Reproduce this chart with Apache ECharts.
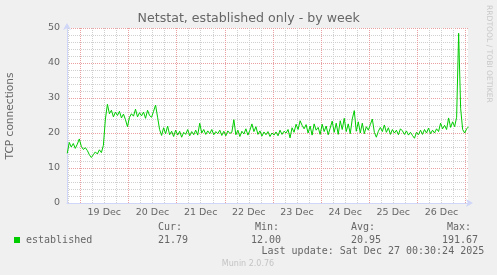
<!DOCTYPE html>
<html>
<head>
<meta charset="utf-8">
<script src="https://cdn.jsdelivr.net/npm/echarts@6/dist/echarts.min.js"></script>
<style>
html,body{margin:0;padding:0;background:#f0f0f0;}
#chart{width:497px;height:275px;}
</style>
</head>
<body>
<div id="chart"></div>
<script>
// ---- data ----
const chartTitle = 'Netstat, established only - by week';
const yAxisTitle = 'TCP connections';
const seriesName = 'established';
const seriesStart = Date.UTC(2025, 11, 18, 17, 30); // first sample
const stepMs = 3600 * 1000;                          // one sample per hour
const established = [
  14.2, 17.3, 16.0, 17.0, 15.6, 16.8, 18.3, 16.2, 15.3, 15.8,
  15.0, 13.8, 13.0, 13.8, 14.6, 14.0, 15.2, 14.4, 16.5, 24.0,
  28.2, 25.5, 26.5, 24.6, 26.0, 25.0, 26.2, 24.3, 25.4, 23.8,
  21.8, 24.5, 25.5, 24.8, 26.8, 24.6, 25.8, 24.9, 26.0, 24.2,
  26.5, 25.0, 24.5, 26.2, 28.0, 24.5, 21.0, 19.3, 21.5, 19.8,
  22.0, 19.5, 20.5, 19.0, 20.8, 19.4, 20.5, 18.8, 20.2, 19.6,
  21.0, 19.2, 20.4, 19.5, 20.8, 19.4, 22.8, 20.0, 21.0, 19.6,
  20.6, 19.8, 21.0, 19.5, 20.4, 19.8, 20.8, 19.3, 20.5, 19.2,
  20.6, 19.9, 20.2, 23.8, 19.5, 20.8, 19.0, 20.5, 19.7, 21.2,
  19.4, 20.8, 22.6, 20.4, 21.8, 19.6, 20.6, 19.1, 20.3, 19.5,
  20.4, 19.0, 20.0, 19.4, 20.3, 19.2, 20.8, 19.6, 20.5, 20.0,
  21.0, 18.6, 21.5, 20.2, 22.5, 21.0, 23.5, 22.2, 21.2, 22.4,
  20.0, 22.0, 19.4, 22.6, 20.8, 21.6, 19.6, 22.5, 20.4, 22.0,
  19.5, 21.4, 23.4, 20.2, 22.8, 19.6, 23.5, 21.0, 24.2, 20.4,
  22.6, 19.8, 24.0, 26.4, 20.5, 23.2, 20.0, 22.8, 19.8, 21.8,
  20.8, 22.4, 24.0, 20.2, 18.8, 20.5, 21.6, 20.4, 22.3, 20.2,
  21.5, 19.6, 21.0, 20.0, 20.8, 19.5, 21.2, 20.6, 19.6, 20.6,
  19.4, 20.2, 19.3, 18.5, 20.2, 19.5, 20.8, 19.6, 21.0, 20.0,
  21.4, 19.8, 20.8, 20.0, 21.2, 20.4, 22.8, 21.2, 22.2, 21.0,
  24.3, 21.6, 23.2, 21.8, 24.5, 48.5, 27.0, 21.0, 20.0, 21.2,
  21.8
];
const xRange = [Date.UTC(2025, 11, 18, 17, 22), Date.UTC(2025, 11, 27, 1, 10)];
const gridStart = Date.UTC(2025, 11, 18, 18, 0);   // first 6-hour grid line
const gridEnd = Date.UTC(2025, 11, 27, 0, 0);      // last grid line
const monthLabel = 'Dec';
const yRange = [0, 50];
const yMajor = 10;
const legendHeaders = ['Cur:', 'Min:', 'Avg:', 'Max:'];
const legendValues = ['21.79', '12.00', '20.95', '191.67'];
const lastUpdate = 'Last update: Sat Dec 27 00:30:24 2025';
const footer = 'Munin 2.0.76';
const sideText = 'RRDTOOL / TOBI OETIKER';

// ---- styles ----
const FONT = '#666666';
const AXIS = '#CFD6F8';
const MAJ = '#eaa0a0';
const MIN = '#d0d0d0';
const LINE = '#00cc00';
const sans = 'DejaVu Sans';
const mono = 'DejaVu Sans Mono';

const seriesData = established.map((v, i) => [seriesStart + i * stepMs, v]);

// vertical grid lines: every 6 hours, red at midnight
const vGrid = [];
for (let t = gridStart; t <= gridEnd; t += 6 * 3600000) {
  const major = new Date(t).getUTCHours() === 0;
  vGrid.push({xAxis: t, lineStyle: {color: major ? MAJ : MIN, width: 1, type: [1, 1]}});
}

const chart = echarts.init(document.getElementById('chart'), null, {renderer: 'canvas'});

const headerX = [158, 255, 351, 447];
const valueX = [158, 251, 351, 442];
const graphics = [
  {type: 'text', x: 248.7, y: 19, style: {text: chartTitle, font: '12.6px "' + sans + '"', fill: FONT, align: 'center', verticalAlign: 'middle'}},
  {type: 'text', x: 10, y: 116, rotation: Math.PI / 2, style: {text: yAxisTitle, font: '10.6px "' + sans + '"', fill: FONT, align: 'center', verticalAlign: 'middle'}},
  {type: 'text', x: 488.5, y: 5, rotation: -Math.PI / 2, style: {text: sideText, font: '7.6px "' + sans + '"', fill: '#c8c8c8', align: 'left', verticalAlign: 'middle'}},
  {type: 'rect', shape: {x: 14, y: 237, width: 6, height: 6}, style: {fill: LINE}},
  {type: 'text', x: 26, y: 240, style: {text: seriesName, font: '10px "' + mono + '"', fill: FONT, align: 'left', verticalAlign: 'middle'}},
  {type: 'text', x: 261.5, y: 251.7, style: {text: lastUpdate, font: '10px "' + mono + '"', fill: FONT, align: 'left', verticalAlign: 'middle'}},
  {type: 'text', x: 248, y: 264, style: {text: footer, font: '8px "' + sans + '"', fill: '#c4c4c4', align: 'center', verticalAlign: 'middle'}}
];
legendHeaders.forEach((h, i) => {
  graphics.push({type: 'text', x: headerX[i], y: 227.7, style: {text: h, font: '10px "' + mono + '"', fill: FONT, align: 'left', verticalAlign: 'middle'}});
  graphics.push({type: 'text', x: valueX[i], y: 240, style: {text: legendValues[i], font: '10px "' + mono + '"', fill: FONT, align: 'left', verticalAlign: 'middle'}});
});

const option = {
  backgroundColor: '#f0f0f0',
  useUTC: true,
  animation: false,
  grid: {left: 67, top: 28, width: 401, height: 175, show: true, backgroundColor: '#ffffff', borderWidth: 0},
  xAxis: {
    type: 'time', min: xRange[0], max: xRange[1],
    minInterval: 86400000, maxInterval: 86400000,
    axisLine: {show: true, lineStyle: {color: AXIS, width: 1}, symbol: ['none', 'arrow'], symbolSize: [6, 7], symbolOffset: [0, 5]},
    axisTick: {show: false},
    splitLine: {show: false},
    axisLabel: {
      show: true, color: FONT, fontFamily: sans, fontSize: 9.5, margin: 5,
      align: 'center', padding: [0, 0, 0, 48],
      showMinLabel: true, showMaxLabel: true,
      formatter: function (value) {
        const d = new Date(value);
        if (d.getUTCHours() !== 0 || d.getUTCMinutes() !== 0) return '';
        if (value + 12 * 3600000 > xRange[1]) return '';
        return d.getUTCDate() + ' ' + monthLabel;
      }
    }
  },
  yAxis: {
    type: 'value', min: yRange[0], max: yRange[1], interval: yMajor,
    axisLine: {show: true, lineStyle: {color: AXIS, width: 1}, symbol: ['none', 'arrow'], symbolSize: [6, 7], symbolOffset: [0, 5]},
    axisTick: {show: false},
    axisLabel: {color: FONT, fontFamily: sans, fontSize: 9.5, margin: 7},
    splitLine: {show: true, lineStyle: {color: MAJ, width: 1, type: [1, 1]}},
    minorTick: {show: true, splitNumber: 5, length: 0, lineStyle: {color: 'rgba(0,0,0,0)'}},
    minorSplitLine: {show: true, lineStyle: {color: MIN, width: 1, type: [1, 1]}}
  },
  series: [
    {
      name: 'grid', type: 'line', data: [], z: 1, silent: true,
      markLine: {silent: true, symbol: ['none', 'none'], label: {show: false}, animation: false, data: vGrid}
    },
    {
      name: seriesName, type: 'line', data: seriesData,
      showSymbol: false, symbol: 'none', z: 5,
      lineStyle: {color: LINE, width: 1}, itemStyle: {color: LINE}
    }
  ],
  graphic: graphics
};
chart.setOption(option);
</script>
</body>
</html>
